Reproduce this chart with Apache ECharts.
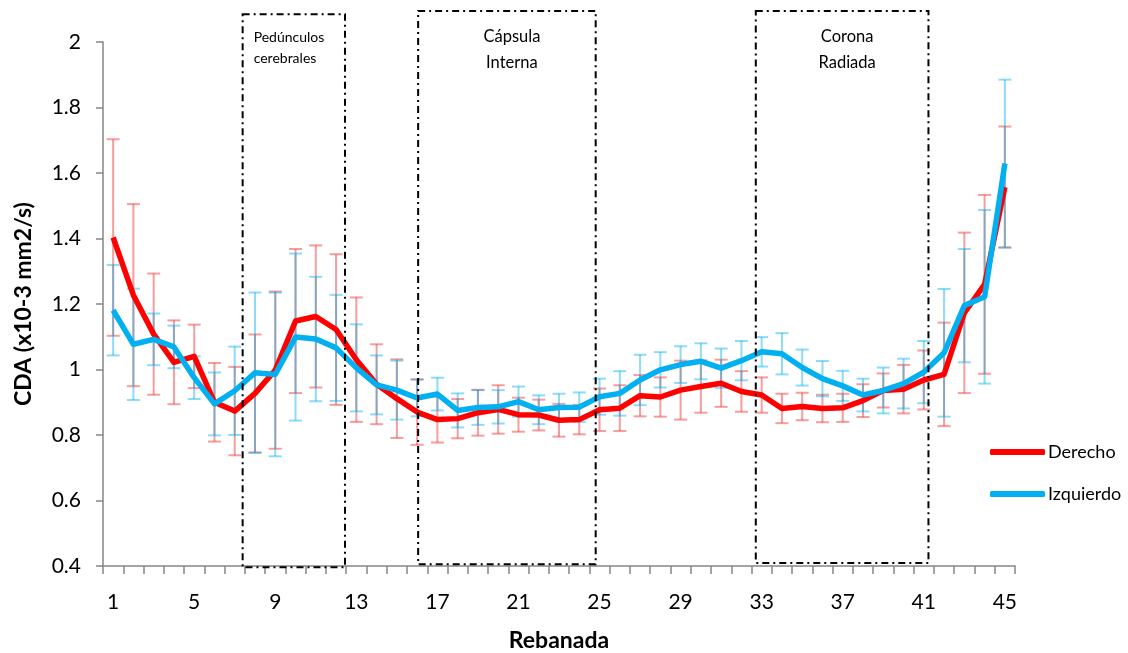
<!DOCTYPE html>
<html>
<head>
<meta charset="utf-8">
<script src="https://cdn.jsdelivr.net/npm/echarts@6/dist/echarts.min.js"></script>
<style>
html,body{margin:0;padding:0;background:#fff;}
#chart{width:1128px;height:653px;}
</style>
</head>
<body>
<div id="chart"></div>
<script>
// ---- data ----
const categories = ['1','2','3','4','5','6','7','8','9','10','11','12','13','14','15','16','17','18','19','20','21','22','23','24','25','26','27','28','29','30','31','32','33','34','35','36','37','38','39','40','41','42','43','44','45'];
const derecho = [1.403,1.227,1.108,1.022,1.040,0.900,0.873,0.927,0.998,1.148,1.162,1.122,1.030,0.955,0.911,0.870,0.847,0.850,0.868,0.878,0.862,0.861,0.845,0.847,0.877,0.882,0.920,0.916,0.937,0.948,0.958,0.933,0.922,0.881,0.887,0.881,0.883,0.905,0.936,0.940,0.968,0.985,1.173,1.260,1.557];
const derechoSD = [0.300,0.278,0.185,0.128,0.097,0.120,0.135,0.180,0.240,0.220,0.217,0.230,0.190,0.122,0.120,0.100,0.070,0.060,0.070,0.074,0.052,0.047,0.050,0.045,0.065,0.070,0.063,0.060,0.090,0.080,0.072,0.062,0.054,0.045,0.042,0.042,0.043,0.050,0.052,0.074,0.090,0.158,0.245,0.273,0.185];
const izquierdo = [1.181,1.077,1.092,1.069,0.975,0.895,0.935,0.990,0.985,1.099,1.093,1.066,1.005,0.953,0.937,0.913,0.925,0.875,0.884,0.886,0.902,0.877,0.884,0.885,0.917,0.927,0.968,0.999,1.015,1.025,1.004,1.027,1.054,1.048,1.006,0.972,0.950,0.922,0.936,0.957,0.992,1.051,1.195,1.222,1.629];
const izquierdoSD = [0.138,0.170,0.079,0.065,0.065,0.096,0.135,0.245,0.250,0.255,0.190,0.162,0.133,0.090,0.090,0.056,0.050,0.052,0.053,0.051,0.046,0.044,0.042,0.045,0.055,0.068,0.077,0.054,0.056,0.055,0.060,0.060,0.045,0.063,0.055,0.054,0.046,0.050,0.070,0.076,0.095,0.195,0.173,0.265,0.256];
const yTicks = [0.4, 2.0, 0.2]; // min, max, interval
// annotated regions in slice units: [from, to, top value, bottom value, text]
const regions = [
  [7.39, 12.44, 2.085, 0.396, 'Pedúnculos\ncerebrales'],
  [16.05, 24.81, 2.095, 0.405, 'Cápsula\nInterna'],
  [32.71, 41.23, 2.095, 0.409, 'Corona\nRadiada']
];

const FONT = 'Lato, "Noto Sans", sans-serif';
const chart = echarts.init(document.getElementById('chart'), null, {renderer:'canvas'});

function errItem(color){
  return function(params, api){
    const x = api.value(0), v = api.value(1), sd = api.value(2);
    const hi = api.coord([x, v + sd]);
    const lo = api.coord([x, v - sd]);
    const w = 6.5;
    const style = {stroke: color, lineWidth: 2, fill: null};
    return {type:'group', children:[
      {type:'line', shape:{x1:hi[0], y1:hi[1], x2:lo[0], y2:lo[1]}, style},
      {type:'line', shape:{x1:hi[0]-w, y1:hi[1], x2:hi[0]+w, y2:hi[1]}, style},
      {type:'line', shape:{x1:lo[0]-w, y1:lo[1], x2:lo[0]+w, y2:lo[1]}, style}
    ]};
  };
}

const option = {
  backgroundColor:'#fff',
  animation:false,
  textStyle:{fontFamily:FONT},
  grid:{left:103, right:113, top:42, bottom:87, containLabel:false, outerBoundsMode:'none'},
  legend:{
    orient:'vertical', left:985, top:437,
    itemWidth:55, itemHeight:6, itemGap:22,
    icon:'roundRect',
    textStyle:{fontFamily:FONT, fontSize:18, color:'#000', lineHeight:20, padding:[0,0,0,-2]},
    data:['Derecho','Izquierdo']
  },
  xAxis:[{
    type:'category', data:categories, boundaryGap:true,
    name:'Rebanada', nameLocation:'middle', nameGap:63,
    nameTextStyle:{fontFamily:FONT, fontSize:23, fontWeight:'bold', color:'#000'},
    axisLine:{lineStyle:{color:'#868686', width:1.5}},
    axisTick:{show:true, interval:0, length:8, inside:false, lineStyle:{color:'#868686', width:1.5}},
    axisLabel:{interval:3, fontFamily:FONT, fontSize:21, color:'#000', margin:26},
    splitLine:{show:false}
  },{
    type:'value', min:0.5, max:45.5, show:false
  }],
  yAxis:{
    type:'value', min:yTicks[0], max:yTicks[1], interval:yTicks[2],
    name:'CDA (x10-3 mm2/s)', nameLocation:'middle', nameGap:68,
    nameTextStyle:{fontFamily:FONT, fontSize:23, fontWeight:'bold', color:'#000'},
    axisLine:{show:true, lineStyle:{color:'#868686', width:1.5}},
    axisTick:{show:true, length:7, lineStyle:{color:'#868686', width:1.5}},
    axisLabel:{fontFamily:FONT, fontSize:21, color:'#000', margin:22,
      formatter:function(v){ return (Math.round(v*10)/10).toString(); }},
    splitLine:{show:false}
  },
  series:[
    {
      name:'errDerecho', type:'custom', z:1, silent:true,
      renderItem: errItem('rgba(240,60,60,0.5)'),
      data: categories.map((c,i)=>[i, derecho[i], derechoSD[i]]),
      encode:{x:0, y:1}
    },
    {
      name:'errIzquierdo', type:'custom', z:1, silent:true,
      renderItem: errItem('rgba(0,176,240,0.45)'),
      data: categories.map((c,i)=>[i, izquierdo[i], izquierdoSD[i]]),
      encode:{x:0, y:1}
    },
    {
      name:'Derecho', type:'line', data:derecho, z:3,
      showSymbol:false, symbol:'none',
      lineStyle:{color:'#ff0000', width:5.5, join:'round'},
      itemStyle:{color:'#ff0000'}
    },
    {
      name:'Izquierdo', type:'line', data:izquierdo, z:4,
      showSymbol:false, symbol:'none',
      lineStyle:{color:'#00b0f0', width:5.5, join:'round'},
      itemStyle:{color:'#00b0f0'}
    },
    {
      name:'regions', type:'custom', xAxisIndex:1, yAxisIndex:0, z:5, silent:true, clip:false,
      data: regions.map(r=>[r[0], r[1], r[2], r[3]]),
      encode:{x:[0,1], y:[2,3]},
      renderItem: function(params, api){
        const i = params.dataIndex;
        const tl = api.coord([api.value(0), api.value(2)]);
        const br = api.coord([api.value(1), api.value(3)]);
        const txt = regions[i][4];
        const first = i === 0;
        const cx = (tl[0]+br[0])/2 + 5;
        return {type:'group', children:[
          {type:'rect', shape:{x:tl[0], y:tl[1], width:br[0]-tl[0], height:br[1]-tl[1]},
           style:{fill:null, stroke:'#000', lineWidth:2, lineDash:[7,4,2,4]}},
          {type:'text', x: first ? tl[0]+11 : cx, y: first ? 26.5 : 24,
           style:{text:txt, fill:'#000', fontFamily:FONT,
             fontSize: first ? 14 : 16.5, lineHeight: first ? 21 : 26,
             align: first ? 'left' : 'center', verticalAlign:'top'}}
        ]};
      }
    }
  ]
};
chart.setOption(option);
</script>
</body>
</html>
